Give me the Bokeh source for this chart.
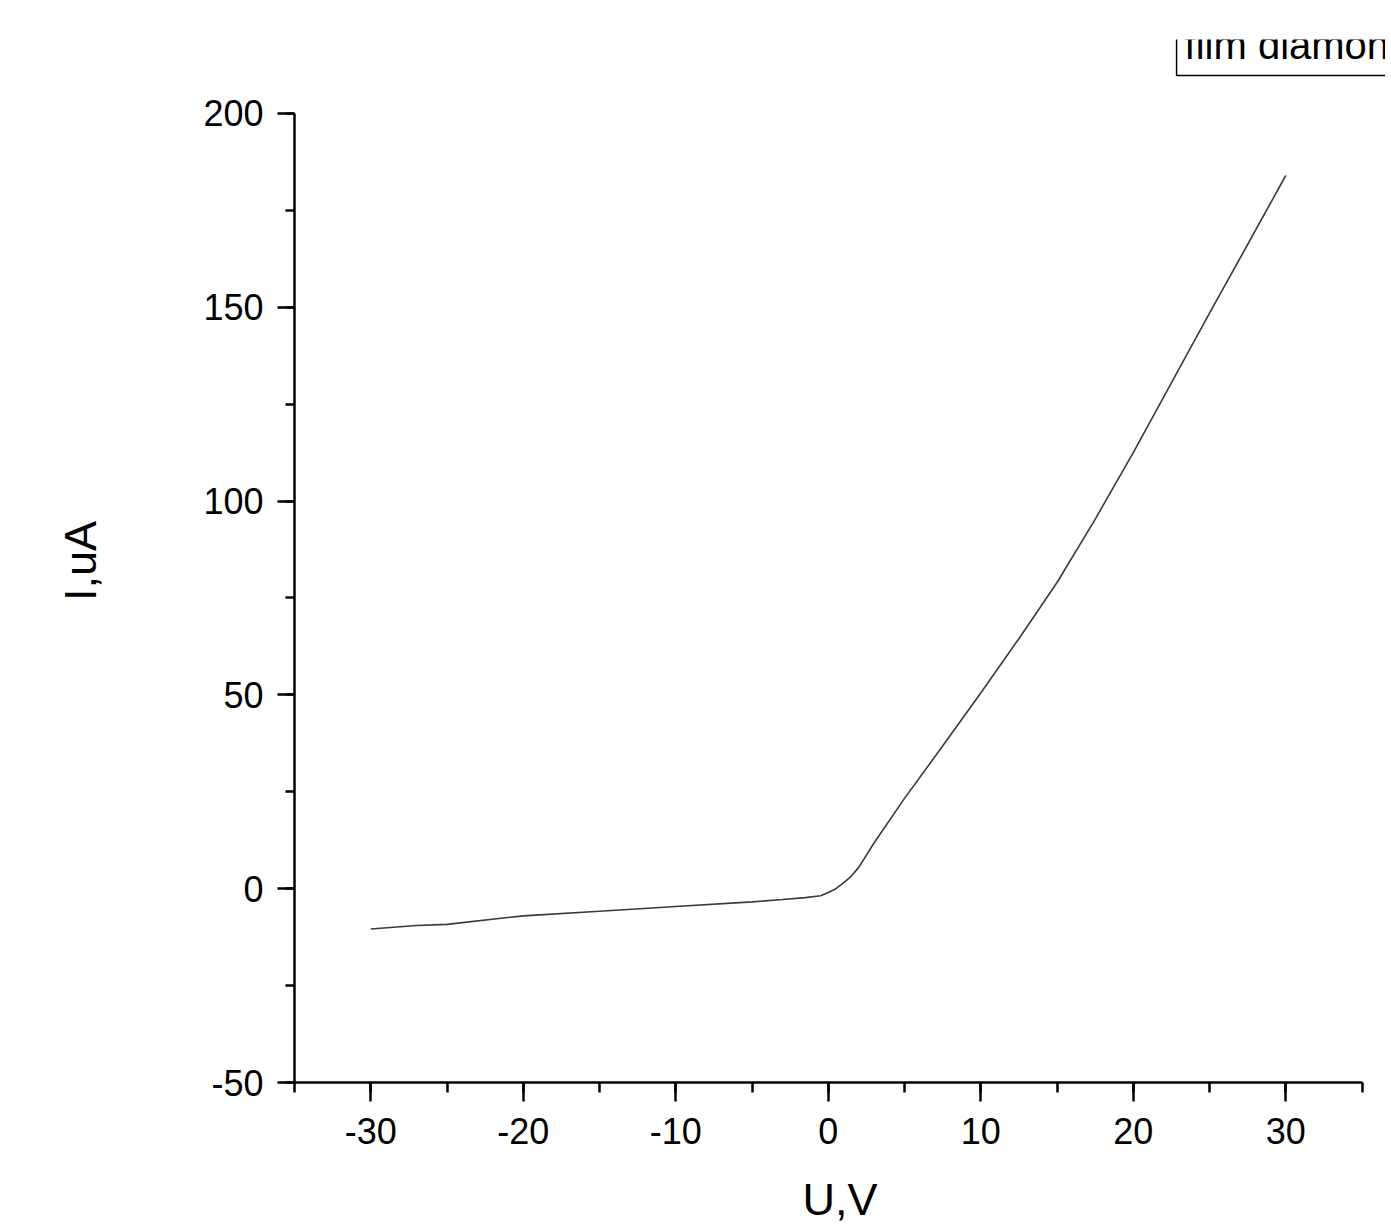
from bokeh.plotting import figure
from bokeh.models import Label, SingleIntervalTicker, Spacer, CustomJSTickFormatter
from bokeh.layouts import column
from bokeh.embed import file_html
from bokeh.resources import INLINE

# Data (I-V curve of a film diamond)
U_V = [-30, -27, -25, -20, -15, -10, -5, -3, -1.5, -0.5, 0, 0.5, 1, 1.5, 2, 3,
       5, 7.5, 10, 12.5, 15, 17.5, 20, 22.5, 25, 27.5, 30]
I_uA = [-10.4, -9.5, -9.2, -7.0, -5.8, -4.6, -3.4, -2.8, -2.3, -1.8, -1.0, 0.0,
        1.5, 3.2, 5.5, 11.8, 23.3, 36.8, 50.5, 64.5, 79, 95.3, 112.5, 130.5,
        148.5, 166.2, 184]

x_label = "U,V"
y_label = "I,uA"
legend_text = "film diamond"

FONT = "Liberation Sans"

W, H = 1385, 1188
p = figure(width=W, height=H,
           x_range=(-35, 36.54), y_range=(-50, 219.09),
           output_backend="svg", toolbar_location=None,
           min_border_left=294, min_border_right=0,
           min_border_top=0, min_border_bottom=145)
p.outline_line_color = None
p.xgrid.visible = False
p.ygrid.visible = False
p.background_fill_color = "white"
p.border_fill_color = "white"

p.line(U_V, I_uA, line_color="#3a3a3a", line_width=1.6)

p.xaxis.ticker = SingleIntervalTicker(interval=10, num_minor_ticks=2)
p.yaxis.ticker = SingleIntervalTicker(interval=50, num_minor_ticks=2)
p.xaxis.bounds = (-35, 35)
p.yaxis.bounds = (-50, 200)

fmt_code = "return tick.toFixed(0);"
for ax in (p.xaxis[0], p.yaxis[0]):
    ax.formatter = CustomJSTickFormatter(code=fmt_code)
    ax.axis_line_color = "black"
    ax.axis_line_width = 2.5
    ax.major_tick_line_color = "black"
    ax.major_tick_line_width = 2.5
    ax.minor_tick_line_color = "black"
    ax.minor_tick_line_width = 2.5
    ax.major_tick_in = 0
    ax.minor_tick_in = 0
    ax.major_label_text_font = FONT
    ax.major_label_text_font_size = "36px"
    ax.major_label_text_color = "black"
    ax.axis_label_text_font = FONT
    ax.axis_label_text_font_size = "45px"
    ax.axis_label_text_font_style = "normal"
    ax.axis_label_text_color = "black"

p.xaxis.major_tick_out = 19
p.xaxis.minor_tick_out = 10
p.xaxis.major_label_standoff = 16
p.xaxis.axis_label = x_label
p.xaxis.axis_label_standoff = 27

p.yaxis.major_tick_out = 17
p.yaxis.minor_tick_out = 9
p.yaxis.major_label_standoff = 14
p.yaxis.axis_label = y_label
p.yaxis.axis_label_standoff = 94

# Legend box (cut off at the top/right as in the reference)
p.add_layout(Label(x=22.84, y=217.55, text=legend_text, text_align="left",
                   text_baseline="alphabetic", text_font=FONT,
                   text_font_size="40px", text_color="black",
                   background_fill_color="white", border_line_color="black",
                   border_line_width=1.5, padding=8))

layout = column(Spacer(height=39, width=W), p)
open("out.html", "w").write(file_html(layout, INLINE))
